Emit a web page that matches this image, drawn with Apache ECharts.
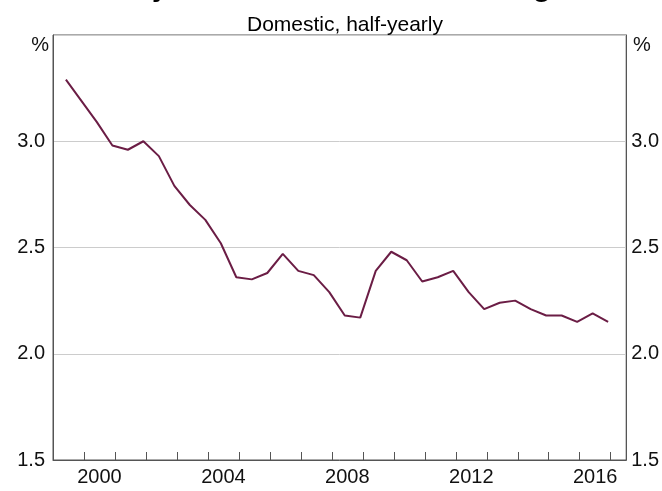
<!DOCTYPE html>
<html>
<head>
<meta charset="utf-8">
<script src="https://cdn.jsdelivr.net/npm/echarts@6/dist/echarts.min.js"></script>
<style>
  html, body { margin: 0; padding: 0; background: #fff; }
  #chart { width: 662px; height: 491px; }
</style>
</head>
<body>
<div id="chart"></div>
<script>
// Half-yearly observations (year-month)
const periods = [
  '1999-06', '1999-12', '2000-06', '2000-12', '2001-06', '2001-12',
  '2002-06', '2002-12', '2003-06', '2003-12', '2004-06', '2004-12',
  '2005-06', '2005-12', '2006-06', '2006-12', '2007-06', '2007-12',
  '2008-06', '2008-12', '2009-06', '2009-12', '2010-06', '2010-12',
  '2011-06', '2011-12', '2012-06', '2012-12', '2013-06', '2013-12',
  '2014-06', '2014-12', '2015-06', '2015-12', '2016-06', '2016-12'
];

// Net interest margin, per cent
const margin = [
  3.29, 3.19, 3.09, 2.98, 2.96, 3.00,
  2.93, 2.79, 2.70, 2.63, 2.52, 2.36,
  2.35, 2.38, 2.47, 2.39, 2.37, 2.29,
  2.18, 2.17, 2.39, 2.48, 2.44, 2.34,
  2.36, 2.39, 2.29, 2.21, 2.24, 2.25,
  2.21, 2.18, 2.18, 2.15, 2.19, 2.15
];

// Year labels and year-boundary ticks on the horizontal axis
const yearLabels = [2000, 2004, 2008, 2012, 2016];
const yearTicks = [2000, 2001, 2002, 2003, 2004, 2005, 2006, 2007, 2008,
                   2009, 2010, 2011, 2012, 2013, 2014, 2015, 2016, 2017];

const titleText = "Major Banks' Net Interest Margin";
const subtitleText = 'Domestic, half-yearly';

function toYear(p) {
  const [y, m] = p.split('-').map(Number);
  return y + (m - 1) / 12;
}

const seriesData = periods.map((p, i) => [toYear(p), margin[i]]);

const FONT = 'Liberation Sans, Arial, sans-serif';
const AXIS_COLOR = '#555';
const labelStyle = { color: '#111', fontFamily: FONT, fontSize: 20 };

const yAxisCommon = {
  type: 'value',
  min: 1.5,
  max: 3.5,
  interval: 0.5,
  axisLine: { show: true, lineStyle: { color: AXIS_COLOR, width: 1 } },
  axisTick: { show: false },
  splitLine: { show: true, lineStyle: { color: '#cccccc', width: 1 } },
  axisLabel: Object.assign({}, labelStyle, {
    formatter: v => (v >= 3.49 ? '' : v.toFixed(1))
  })
};

const chart = echarts.init(document.getElementById('chart'), null, { renderer: 'canvas' });

chart.setOption({
  animation: false,
  backgroundColor: '#fff',
  title: [
    {
      text: titleText,
      left: 340, textAlign: 'center',
      top: -32,
      textStyle: { fontFamily: FONT, fontSize: 30, fontWeight: 'bold', color: '#000' }
    },
    {
      text: subtitleText,
      left: 340, textAlign: 'center',
      top: 10,
      textStyle: { fontFamily: FONT, fontSize: 21, fontWeight: 'normal', color: '#000' }
    }
  ],
  grid: {
    left: 53, right: 34, top: 35, bottom: 31,
    show: true, borderColor: AXIS_COLOR, borderWidth: 1,
    containLabel: false
  },
  xAxis: {
    type: 'value',
    min: 1999,
    max: 2017.5,
    axisLine: { show: true, onZero: false, lineStyle: { color: AXIS_COLOR, width: 1 } },
    axisTick: {
      show: true, inside: true, length: 8,
      customValues: yearTicks,
      lineStyle: { color: AXIS_COLOR, width: 1 }
    },
    axisLabel: Object.assign({}, labelStyle, {
      margin: 7,
      customValues: yearLabels.map(y => y + 0.5),
      formatter: v => String(Math.floor(v))
    }),
    splitLine: { show: false }
  },
  yAxis: [
    Object.assign({}, yAxisCommon, {
      position: 'left',
      axisLabel: Object.assign({}, yAxisCommon.axisLabel, { margin: 8 })
    }),
    Object.assign({}, yAxisCommon, {
      position: 'right',
      splitLine: { show: false },
      axisLabel: Object.assign({}, yAxisCommon.axisLabel, { margin: 5 })
    })
  ],
  graphic: [
    {
      type: 'text', right: 662 - 49, top: 35,
      style: { text: '%', fontFamily: FONT, fontSize: 20, fill: '#111' }
    },
    {
      type: 'text', left: 633, top: 35,
      style: { text: '%', fontFamily: FONT, fontSize: 20, fill: '#111' }
    }
  ],
  series: [
    {
      type: 'line',
      data: seriesData,
      yAxisIndex: 0,
      showSymbol: false,
      symbol: 'none',
      lineStyle: { color: '#6b1d45', width: 2 },
      silent: true
    }
  ]
});
</script>
</body>
</html>
